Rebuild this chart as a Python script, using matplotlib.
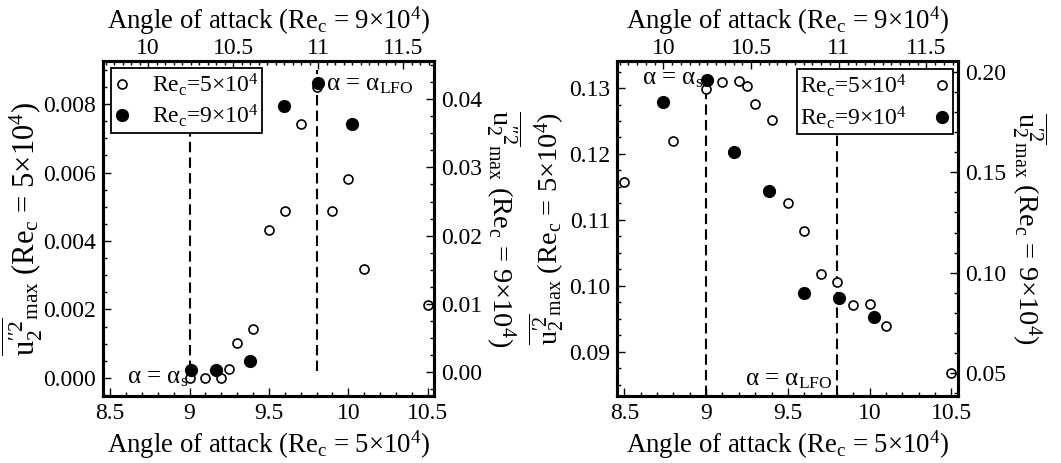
import matplotlib
matplotlib.use("Agg")
import matplotlib.pyplot as plt
from matplotlib.ticker import MultipleLocator, FormatStrFormatter, StrMethodFormatter
from matplotlib.lines import Line2D

plt.rcParams['font.family'] = ['Liberation Serif', 'DejaVu Serif']
plt.rcParams['mathtext.fontset'] = 'custom'
plt.rcParams['mathtext.rm'] = 'Liberation Serif'
plt.rcParams['mathtext.it'] = 'Liberation Serif:italic'
plt.rcParams['mathtext.bf'] = 'Liberation Serif:bold'

# ---- data: panel a (u2''2) ----
aoa_5e4_a = [9.0, 9.1, 9.2, 9.25, 9.3, 9.4, 9.5, 9.6, 9.7, 9.8, 9.9, 10.0, 10.1, 10.5]
u_5e4_a = [0.0000, 0.0000, 0.0000, 0.00025, 0.00101, 0.00142, 0.00432, 0.00487,
           0.00742, 0.0085, 0.00489, 0.00581, 0.00319, 0.00213]
aoa_9e4_a = [10.25, 10.4, 10.6, 10.8, 11.0, 11.2]
u_9e4_a = [0.00025, 0.00025, 0.0017, 0.039, 0.0424, 0.0363]

# ---- data: panel b (u2'2) ----
aoa_5e4_b = [8.5, 8.8, 9.0, 9.1, 9.2, 9.25, 9.3, 9.4, 9.5, 9.6, 9.7, 9.8, 9.9, 10.0, 10.1, 10.5]
u_5e4_b = [0.1158, 0.1220, 0.1298, 0.1309, 0.1311, 0.1303, 0.1276, 0.1252, 0.1126,
           0.1083, 0.1018, 0.1006, 0.0971, 0.0973, 0.0939, 0.0868]
aoa_9e4_b = [10.0, 10.25, 10.4, 10.6, 10.8, 11.0, 11.2]
u_9e4_b = [0.185, 0.196, 0.160, 0.1407, 0.0898, 0.0873, 0.0779]

alpha_s = 9.0
alpha_lfo = 9.8

W, H = 1061, 463
fig = plt.figure(figsize=(W / 100, H / 100), dpi=100)

xlab_bot = r"Angle of attack (Re$_{\mathrm{c}}$ = 5×10$^{4}$)"
xlab_top = r"Angle of attack (Re$_{\mathrm{c}}$ = 9×10$^{4}$)"
FS = 17    # tick labels
LFS = 19.3  # x labels
AFS = 18   # annotations


def style(ax, xpad):
    for s in ax.spines.values():
        s.set_linewidth(2.2)
    ax.tick_params(which='both', direction='in', labelsize=FS, width=1.0)
    ax.tick_params(axis='y', pad=5)
    ax.tick_params(axis='x', pad=xpad)
    ax.tick_params(which='major', length=6)
    ax.tick_params(which='minor', length=3)


def make_panel(rect, x5, y5, x9, y9, ylim5, ylim9, ylab5, ylab9, yfs5, yfs9,
               ylx5, ylx9, ymaj5, ymin5, fmt5, ymaj9, ymin9, fmt9):
    ax = fig.add_axes(rect)
    ax2 = fig.add_axes(rect, label=str(rect) + 'twin', facecolor='none')
    ax.set_xlim(8.455, 10.54)
    ax2.set_xlim(9.735, 11.68)
    ax.set_ylim(*ylim5)
    ax2.set_ylim(*ylim9)

    ax.xaxis.set_ticks_position('bottom')
    ax.yaxis.set_ticks_position('left')
    ax2.xaxis.set_ticks_position('top')
    ax2.xaxis.set_label_position('top')
    ax2.yaxis.set_ticks_position('right')
    ax2.yaxis.set_label_position('right')

    ax.xaxis.set_major_locator(MultipleLocator(0.5))
    ax.xaxis.set_minor_locator(MultipleLocator(0.1))
    ax.xaxis.set_major_formatter(StrMethodFormatter('{x:g}'))
    ax2.xaxis.set_major_locator(MultipleLocator(0.5))
    ax2.xaxis.set_minor_locator(MultipleLocator(0.05))
    ax2.xaxis.set_major_formatter(StrMethodFormatter('{x:g}'))
    ax.yaxis.set_major_locator(MultipleLocator(ymaj5))
    ax.yaxis.set_minor_locator(MultipleLocator(ymin5))
    ax.yaxis.set_major_formatter(FormatStrFormatter(fmt5))
    ax2.yaxis.set_major_locator(MultipleLocator(ymaj9))
    ax2.yaxis.set_minor_locator(MultipleLocator(ymin9))
    ax2.yaxis.set_major_formatter(FormatStrFormatter(fmt9))

    style(ax, 5)
    style(ax2, 1.5)

    ax.scatter(x5, y5, s=42, facecolors='white', edgecolors='black',
               linewidths=1.2, zorder=3)
    ax2.scatter(x9, y9, s=72, facecolors='black', edgecolors='black', zorder=3)

    ax.set_xlabel(xlab_bot, fontsize=LFS, labelpad=3)
    ax2.set_xlabel(xlab_top, fontsize=LFS, labelpad=7)
    ax.set_ylabel(ylab5, fontsize=yfs5, va='center')
    ax.yaxis.set_label_coords(ylx5, 0.5)
    ax2.set_ylabel(ylab9, fontsize=yfs9, rotation=270, va='center')
    ax2.yaxis.set_label_coords(ylx9, 0.5)
    return ax, ax2


ylab_a5 = r"$\overline{\mathrm{u}_2^{\prime\prime 2}}_{\mathrm{max}}$ (Re$_{\mathrm{c}}$ = 5×10$^{4}$)"
ylab_a9 = r"$\overline{\mathrm{u}_2^{\prime\prime 2}}_{\mathrm{max}}$ (Re$_{\mathrm{c}}$ = 9×10$^{4}$)"
ylab_b5 = r"$\overline{\mathrm{u}_2^{\prime 2}}_{\mathrm{max}}$ (Re$_{\mathrm{c}}$ = 5×10$^{4}$)"
ylab_b9 = r"$\overline{\mathrm{u}_2^{\prime 2}}_{\mathrm{max}}$ (Re$_{\mathrm{c}}$ = 9×10$^{4}$)"

handles = [
    Line2D([], [], ls='none', marker='o', ms=6.5, mfc='white', mec='black', mew=1.2),
    Line2D([], [], ls='none', marker='o', ms=8.5, mfc='black', mec='black'),
]
labels = [r"Re$_{\mathrm{c}}$=5×10$^{4}$", r"Re$_{\mathrm{c}}$=9×10$^{4}$"]

# ---- panel a ----
axa, axa2 = make_panel([103 / W, 67 / H, 331 / W, 335 / H],
                       aoa_5e4_a, u_5e4_a, aoa_9e4_a, u_9e4_a,
                       (-0.00053, 0.00926), (-0.0035, 0.0456),
                       ylab_a5, ylab_a9, 22, 20.5, -0.245, 1.21,
                       0.002, 0.0005, '%.3f', 0.01, 0.0025, '%.2f')
axa.vlines([alpha_s, alpha_lfo], 0.0002, 0.009, colors='black', lw=1.5,
           linestyles=[(0, (5, 2.5))], zorder=1)
axa.text(alpha_s - 0.01, 0.0, r"α = α$_{\mathrm{s}}$", fontsize=AFS, ha='right',
         va='center', zorder=2)
axa.text(9.86, 0.00855, r"α = α$_{\mathrm{LFO}}$", fontsize=AFS, ha='left',
         va='center', zorder=2)
leg = axa2.legend(handles, labels, loc='upper left', bbox_to_anchor=(0.024, 0.98),
                  borderaxespad=0, fontsize=FS, frameon=True, fancybox=False,
                  edgecolor='black', framealpha=1, handlelength=0.6,
                  handletextpad=1.0, borderpad=0.15, labelspacing=0.2)
leg.get_frame().set_linewidth(1.3)

# ---- panel b ----
axb, axb2 = make_panel([617 / W, 67 / H, 341 / W, 335 / H],
                       aoa_5e4_b, u_5e4_b, aoa_9e4_b, u_9e4_b,
                       (0.0833, 0.1341), (0.0385, 0.2055),
                       ylab_b5, ylab_b9, 20.5, 20.5, -0.208, 1.21,
                       0.01, 0.0025, '%.2f', 0.05, 0.01, '%.2f')
axb.vlines([alpha_s, alpha_lfo], 0.0833, 0.131, colors='black', lw=1.5,
           linestyles=[(0, (5, 2.5))], zorder=1)
axb.text(alpha_s - 0.02, 0.1314, r"α = α$_{\mathrm{s}}$", fontsize=AFS, ha='right',
         va='center', zorder=2)
axb.text(alpha_lfo - 0.03, 0.0857, r"α = α$_{\mathrm{LFO}}$", fontsize=AFS, ha='right',
         va='center', zorder=2)
leg = axb2.legend(handles, labels, loc='upper right', bbox_to_anchor=(0.985, 0.975),
                  borderaxespad=0, fontsize=FS, frameon=True, fancybox=False,
                  edgecolor='black', framealpha=1, handlelength=0.6,
                  handletextpad=1.2, borderpad=0.15, labelspacing=0.2,
                  markerfirst=False)
leg.get_frame().set_linewidth(1.3)

fig.savefig('out.png', dpi=100)
